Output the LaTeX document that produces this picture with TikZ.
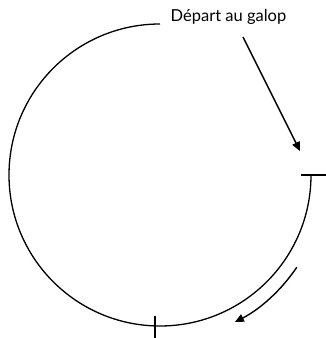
\documentclass[tikz,border=0pt]{standalone}
\usepackage{fontspec}
\setmainfont{Lato}
\usetikzlibrary{arrows.meta}

\begin{document}
\begin{tikzpicture}[x=1pt, y=1pt]
    \def\trackRadius{151}
    \def\arrowRadius{165}

    \tikzset{
        track/.style={line width=1.3pt},
        marker/.style={line width=1.3pt},
        pointer/.style={line width=1.4pt, -{Triangle[length=9pt, width=8pt]}}
    }

    \useasboundingbox (0,0) rectangle (326,338);

    % Centre of the track
    \coordinate (C) at (160,163);

    % Draw the track
    \draw[track] (C) ++(90:\trackRadius) arc (90:360:\trackRadius);

    % Start and finish markers
    \coordinate (R1) at (301,163);
    \coordinate (R2) at (326,163);
    \draw[marker] (R1) -- (R2);
    \coordinate (B1) at (155,22);
    \coordinate (B2) at (155,0);
    \draw[marker] (B1) -- (B2);

    % Label and its arrow
    \node[anchor=base, inner sep=0pt, font=\fontsize{16.5}{19}\selectfont] (depart) at (228.5,316) {Départ au galop};
    \coordinate (P1) at (243,301);
    \coordinate (P2) at (300,187);
    \draw[pointer] (P1) -- (P2);

    % Direction of travel
    \draw[pointer] (C) ++(-34:\arrowRadius) arc (-34:-63:\arrowRadius);

\end{tikzpicture}
\end{document}
